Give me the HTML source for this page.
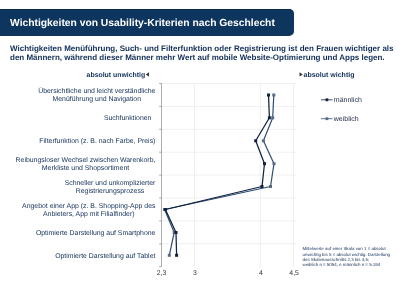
<!DOCTYPE html>
<html lang="de">
<head>
<meta charset="utf-8">
<title>Wichtigkeiten von Usability-Kriterien nach Geschlecht</title>
<style>
html,body{margin:0;padding:0;background:#fff;}
body{text-rendering:geometricPrecision;width:410px;height:284px;position:relative;overflow:hidden;font-family:"Liberation Sans",Arial,sans-serif;color:#102e57;}
.bar{position:absolute;left:0;top:8.8px;width:293.7px;height:27.2px;background:#0d355e;box-shadow:inset 0 0.8px 0 #0a2a4b;border-radius:0 5px 5px 0;}
.title{position:absolute;left:10px;top:17.3px;font-size:10.3px;line-height:13px;font-weight:bold;color:#fff;white-space:nowrap;}
.sub{position:absolute;left:10px;top:43.5px;font-size:8px;line-height:9.4px;font-weight:bold;color:#102e57;white-space:nowrap;}
.lab{position:absolute;right:254.6px;text-align:center;font-size:6.9px;line-height:7.8px;color:#102e57;white-space:nowrap;}
.ax{position:absolute;font-size:7px;line-height:8px;font-weight:bold;color:#102e57;white-space:nowrap;}
.leg{position:absolute;font-size:7px;line-height:8px;color:#1c2a44;white-space:nowrap;}
.tick{position:absolute;font-size:6.9px;line-height:8px;color:#2e3440;white-space:nowrap;text-align:center;width:20px;}
.note{position:absolute;left:302.5px;top:246.3px;font-size:4.43px;line-height:5.2px;color:#102e57;white-space:nowrap;}
svg{position:absolute;left:0;top:0;}
</style>
</head>
<body>
<div class="bar"></div>
<div class="title">Wichtigkeiten von Usability-Kriterien nach Geschlecht</div>
<div class="sub">Wichtigkeiten Menüführung, Such- und Filterfunktion oder Registrierung ist den Frauen wichtiger als<br>den Männern, während dieser Männer mehr Wert auf mobile Website-Optimierung und Apps legen.</div>

<svg width="410" height="284" viewBox="0 0 410 284">
  <g stroke="#e0e0e0" stroke-width="0.5" fill="none">
    <path d="M161.5 83.5H296M161.5 106.4H296M161.5 129.3H296M161.5 152.2H296M161.5 175.1H296M161.5 198H296M161.5 220.9H296M161.5 243.8H296"/>
    <path d="M194.5 83.5V267.6M260.4 83.5V267.6M293.5 83.5V267.6"/>
  </g>
  <g stroke="#8a8a8a" stroke-width="0.7" fill="none">
    <path d="M161.5 83.2V266.9"/>
    <path d="M159.1 83.5H161.5M159.1 106.4H161.5M159.1 129.3H161.5M159.1 152.2H161.5M159.1 175.1H161.5M159.1 198H161.5M159.1 220.9H161.5M159.1 243.8H161.5M159.1 266.7H161.5"/>
  </g>
  <!-- weiblich -->
  <g fill="none" stroke="#2f4d72" stroke-width="1.2" stroke-linejoin="round">
    <polyline points="273.8,95 272.7,117.8 263.4,140.8 274,163.7 270.5,186.5 164.6,209.5 174.2,232.5 169.3,255.3"/>
  </g>
  <g fill="#596c82">
    <rect x="272.3" y="93.5" width="3" height="3"/><rect x="271.2" y="116.3" width="3" height="3"/><rect x="261.9" y="139.3" width="3" height="3"/><rect x="272.5" y="162.2" width="3" height="3"/><rect x="269" y="185" width="3" height="3"/><rect x="163.1" y="208" width="3" height="3"/><rect x="172.7" y="231" width="3" height="3"/><rect x="167.8" y="253.8" width="3" height="3"/>
  </g>
  <!-- maennlich -->
  <g fill="none" stroke="#0f2240" stroke-width="1.25" stroke-linejoin="round">
    <polyline points="268.5,95 269.4,117.8 255.7,140.8 264.5,163.7 262,186.5 165.4,209.5 176,232.5 176.6,255.3"/>
  </g>
  <g fill="#0f2240">
    <rect x="267" y="93.5" width="3" height="3"/><rect x="267.9" y="116.3" width="3" height="3"/><rect x="254.2" y="139.3" width="3" height="3"/><rect x="263" y="162.2" width="3" height="3"/><rect x="260.5" y="185" width="3" height="3"/><rect x="163.9" y="208" width="3" height="3"/><rect x="174.5" y="231" width="3" height="3"/><rect x="175.1" y="253.8" width="3" height="3"/>
  </g>
  <!-- legend -->
  <path d="M321 99.8H332.5" stroke="#0f2240" stroke-width="0.8"/>
  <rect x="325.5" y="98.4" width="2.8" height="2.8" fill="#0f2240"/>
  <path d="M321 118.7H332.5" stroke="#2f4d72" stroke-width="0.8"/>
  <rect x="325.5" y="117.3" width="2.8" height="2.8" fill="#596c82"/>
  <!-- arrows -->
  <path d="M149 72.3L145.8 74.5L149 76.7Z" fill="#3a3a3a"/>
  <path d="M299.5 72.2L302.8 74.4L299.5 76.6Z" fill="#3a3a3a"/>
</svg>

<div class="ax" style="left:86.6px;top:71.5px;font-size:6.9px;">absolut unwichtig</div>
<div class="ax" style="left:303.5px;top:71.5px;">absolut wichtig</div>

<div class="lab" style="top:88.4px;">Übersichtliche und leicht verständliche<br>Menüführung und Navigation</div>
<div class="lab" style="top:115.2px;right:258.6px;">Suchfunktionen</div>
<div class="lab" style="top:138.1px;">Filterfunktion (z. B. nach Farbe, Preis)</div>
<div class="lab" style="top:157.1px;">Reibungsloser Wechsel zwischen Warenkorb,<br>Merkliste und Shopsortiment</div>
<div class="lab" style="top:180.0px;">Schneller und unkomplizierter<br>Registrierungsprozess</div>
<div class="lab" style="top:202.9px;">Angebot einer App (z. B. Shopping-App des<br>Anbieters, App mit Filialfinder)</div>
<div class="lab" style="top:229.7px;">Optimierte Darstellung auf Smartphone</div>
<div class="lab" style="top:252.6px;">Optimierte Darstellung auf Tablet</div>

<div class="leg" style="left:333.8px;top:96.6px;">männlich</div>
<div class="leg" style="left:333.8px;top:115.5px;">weiblich</div>

<div class="tick" style="left:151.6px;top:270.4px;">2,3</div>
<div class="tick" style="left:184.9px;top:270.4px;">3</div>
<div class="tick" style="left:250.9px;top:270.4px;">4</div>
<div class="tick" style="left:284.1px;top:270.4px;">4,5</div>

<div class="note">Mittelwerte auf einer Skala von 1 = absolut<br>unwichtig bis 5 = absolut wichtig. Darstellung<br>des Skalenausschnitts 2,3 bis 4,5;<br>weiblich n = 5054, n männlich n = 5.194</div>
</body>
</html>
